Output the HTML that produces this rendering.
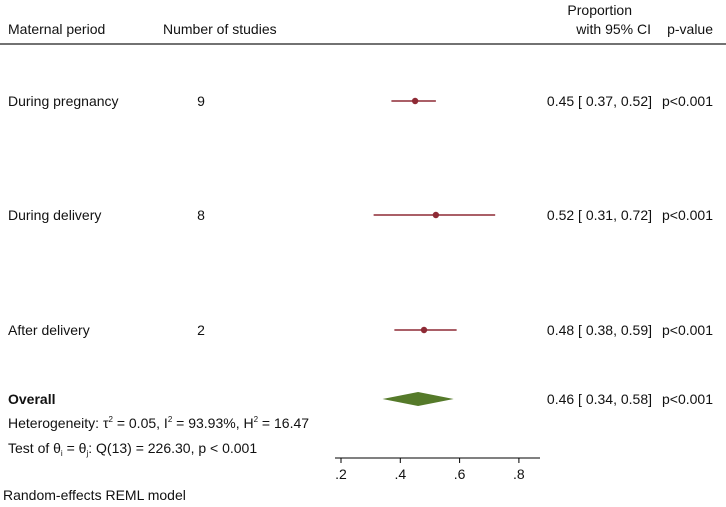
<!DOCTYPE html>
<html><head><meta charset="utf-8"><style>
body{margin:0;background:#fff;}
svg{display:block;font-family:"Liberation Sans",Arial,sans-serif;}
text{font-size:14px;fill:#111;}
</style></head><body>
<svg id="chart" width="726" height="507">
<g>
<text x="8" y="34">Maternal period</text>
<text x="163" y="34">Number of studies</text>
<text x="632" y="15" text-anchor="end">Proportion</text>
<text x="651" y="34" text-anchor="end">with 95% CI</text>
<text x="713" y="34" text-anchor="end">p-value</text>
<line x1="0" y1="44" x2="726" y2="44" stroke="#444" stroke-width="1.6"/>
</g>
<g id="rows"></g>
<g>
<text x="8" y="404" font-weight="bold">Overall</text>
<text x="8" y="428">Heterogeneity: τ<tspan dy="-6" font-size="8">2</tspan><tspan dy="6"> = 0.05, I</tspan><tspan dy="-6" font-size="8">2</tspan><tspan dy="6"> = 93.93%, H</tspan><tspan dy="-6" font-size="8">2</tspan><tspan dy="6"> = 16.47</tspan></text>
<text x="8" y="453">Test of θ<tspan dy="3" font-size="8">i</tspan><tspan dy="-3"> = θ</tspan><tspan dy="3" font-size="8">j</tspan><tspan dy="-3">: Q(13) = 226.30, p &lt; 0.001</tspan></text>
</g>
<g id="axis"></g>
<text x="3" y="500">Random-effects REML model</text>
</svg>
<script>
const labels=["During pregnancy","During delivery","After delivery"];
const nStudies=[9,8,2];
const est=[0.45,0.52,0.48];
const lo=[0.37,0.31,0.38];
const hi=[0.52,0.72,0.59];
const pvals=["p<0.001","p<0.001","p<0.001"];
const overallEst=0.46, overallLo=0.34, overallHi=0.58, overallP="p<0.001";
const ticks=[0.2,0.4,0.6,0.8];
const tickLabels=[".2",".4",".6",".8"];

const NS="http://www.w3.org/2000/svg";
const X=v=>341+(v-0.2)*296.5;
const rowY=[101,215,330];
const svg=document.getElementById('chart');
const rows=document.getElementById('rows');
function mk(tag,attrs,parent,txt){const e=document.createElementNS(NS,tag);for(const k in attrs)e.setAttribute(k,attrs[k]);if(txt!==undefined)e.textContent=txt;parent.appendChild(e);return e;}
const f=v=>v.toFixed(2);
labels.forEach((l,i)=>{
  const y=rowY[i];
  const g=mk('g',{},rows);
  
  
  const t1=mk('text',{x:8,y:y+5},g,l);
  
  
  const t2=mk('text',{x:201,y:y+5,'text-anchor':'middle'},g,nStudies[i]);
  
  
  const ln=mk('line',{x1:X(lo[i]),x2:X(hi[i]),y1:y,y2:y,stroke:'#8e2a35','stroke-width':1.5},g);
  
  
  const c=mk('circle',{cx:X(est[i]),cy:y,r:3.2,fill:'#8e2a35'},g);
  
  
  const t3=mk('text',{x:652,y:y+5,'text-anchor':'end'},g,f(est[i])+" [ "+f(lo[i])+", "+f(hi[i])+"]");
  
  
  const t4=mk('text',{x:662,y:y+5},g,pvals[i]);
  
  
});
const oy=399;
const d=mk('polygon',{points:`${X(overallLo)},${oy} ${X(overallEst)},${oy-7} ${X(overallHi)},${oy} ${X(overallEst)},${oy+7}`,fill:'#557a2a'},svg);


const ot=mk('text',{x:652,y:oy+5,'text-anchor':'end'},svg,f(overallEst)+" [ "+f(overallLo)+", "+f(overallHi)+"]");


const op=mk('text',{x:662,y:oy+5},svg,overallP);


const ax=document.getElementById('axis');
const al=mk('line',{x1:335,x2:540,y1:458,y2:458,stroke:'#000','stroke-width':1},ax);


ticks.forEach((t,i)=>{
  const tk=mk('line',{x1:X(t),x2:X(t),y1:458,y2:463,stroke:'#000'},ax);
  
  
  const tl=mk('text',{x:X(t),y:479,'text-anchor':'middle'},ax,tickLabels[i]);
  
  
});
</script>
</body></html>
